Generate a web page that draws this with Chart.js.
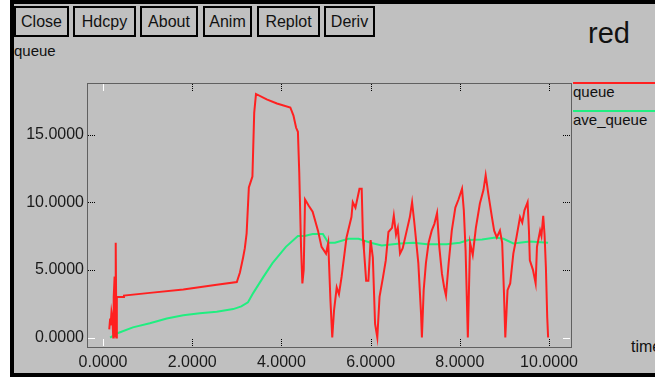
<!DOCTYPE html>
<html>
<head>
<meta charset="utf-8">
<script src="https://cdn.jsdelivr.net/npm/chart.js@4/dist/chart.umd.min.js"></script>
<style>
  html, body { margin:0; padding:0; background:#fff; width:655px; height:379px; overflow:hidden; }
  #win { position:absolute; left:10px; top:0; width:700px; height:377px; box-sizing:border-box;
         background:#c0c0c0; border-left:4px solid #000; border-top:4px solid #000; border-bottom:4px solid #000; }
  .btn { position:absolute; top:6px; height:31px; box-sizing:border-box; border:2px solid #000;
         font:16px "Liberation Sans", Arial, sans-serif; color:#111; line-height:27px; text-align:center; }
  .txt { position:absolute; font-family:"Liberation Sans", Arial, sans-serif; color:#111; white-space:nowrap; }
  #c { position:absolute; left:0; top:0; }
  .leg { position:absolute; left:573px; width:90px; height:2px; }
</style>
</head>
<body>
<div id="win"></div>
<div class="btn" style="left:14px;width:55px;">Close</div>
<div class="btn" style="left:73px;width:63px;">Hdcpy</div>
<div class="btn" style="left:140px;width:58px;">About</div>
<div class="btn" style="left:203px;width:49px;">Anim</div>
<div class="btn" style="left:257px;width:63px;">Replot</div>
<div class="btn" style="left:324px;width:51px;">Deriv</div>
<div class="txt" style="left:588px;top:17px;font-size:29px;">red</div>
<div class="txt" style="left:14px;top:42px;font-size:15px;">queue</div>
<div class="leg" style="top:82px;background:#ff2020;"></div>
<div class="txt" style="left:573px;top:83px;font-size:15px;">queue</div>
<div class="leg" style="top:110px;background:#20ee80;"></div>
<div class="txt" style="left:573px;top:111px;font-size:15px;">ave_queue</div>
<div class="txt" style="left:631px;top:338px;font-size:16px;">time</div>
<canvas id="c" width="655" height="379"></canvas>
<script>
// ---- data ----
const xTicks = [0, 2, 4, 6, 8, 10];
const yTicks = [0, 5, 10, 15];

const queueX = [0.14,0.16,0.17,0.19,0.21,0.23,0.24,0.26,0.27,0.28,0.29,0.30,0.31,0.45,0.47,1.05,1.8,2.55,3.0,
  3.07,3.14,3.18,3.22,3.27,3.32,3.35,3.39,3.43,3.67,3.9,4.2,4.27,4.33,4.37,4.40,4.44,4.47,4.50,4.53,
  4.62,4.70,4.82,4.90,5.00,5.05,5.10,5.14,5.18,5.24,5.29,5.35,5.46,5.57,5.60,5.66,5.75,5.80,5.83,5.85,5.90,5.95,
  6.00,6.05,6.10,6.15,6.20,6.28,6.34,6.40,6.48,6.52,6.57,6.61,6.66,6.72,6.81,6.88,6.93,6.98,7.07,7.13,7.15,
  7.19,7.24,7.30,7.37,7.43,7.49,7.54,7.60,7.65,7.69,7.75,7.82,7.90,7.97,8.05,8.09,8.13,8.18,8.23,8.29,8.36,
  8.45,8.53,8.58,8.64,8.72,8.77,8.83,8.90,8.95,8.99,9.02,9.07,9.13,9.20,9.27,9.35,9.40,9.45,9.52,9.55,9.57,
  9.64,9.70,9.73,9.80,9.83,9.87,9.90,9.93,9.96,9.98];
const queueY = [0.6,1.4,0.9,1.9,1.5,0.0,3.0,4.5,0.1,4.4,7.0,0.0,3.0,3.0,3.1,3.3,3.55,3.9,4.1,
  4.8,5.9,6.6,7.7,11.1,11.6,11.9,16.6,18.0,17.6,17.3,17.0,16.4,15.5,15.2,12.2,6.7,4.0,5.0,10.2,
  9.7,9.3,7.9,6.7,6.2,7.0,2.7,0.0,2.0,3.7,3.2,4.5,7.4,8.9,10.0,9.6,11.0,11.0,7.2,6.5,4.2,4.2,
  7.2,5.9,1.0,0.0,3.0,4.5,5.7,7.8,8.1,9.0,7.6,8.1,6.2,6.6,7.9,8.9,10.0,8.5,5.5,1.8,0.0,
  3.5,5.5,7.0,7.9,8.4,9.2,6.7,4.7,3.7,3.1,5.5,7.9,9.6,10.2,11.0,9.4,6.4,0.0,7.0,6.1,8.1,
  9.9,10.9,12.0,10.6,8.9,7.9,7.4,7.9,7.0,3.3,0.0,3.5,4.0,6.2,7.4,8.9,8.5,9.4,10.0,7.9,5.7,
  5.0,4.0,6.7,7.9,7.5,9.0,7.6,5.2,1.5,0.0];

const aveX = [0.16,0.31,0.67,1.05,1.43,1.8,2.17,2.55,2.92,3.1,3.25,3.37,3.6,3.8,4.1,4.37,4.52,4.70,4.93,
  5.05,5.20,5.50,5.73,6.00,6.25,6.66,6.96,7.27,7.70,8.00,8.20,8.50,8.80,8.98,9.20,9.57,9.98];
const aveY = [0.0,0.3,0.75,1.05,1.4,1.65,1.8,1.9,2.1,2.3,2.6,3.3,4.5,5.5,6.7,7.5,7.5,7.65,7.65,
  7.0,7.0,7.3,7.3,7.0,6.8,6.95,7.0,6.9,6.9,7.0,7.2,7.25,7.4,7.3,6.95,7.1,7.0];

const toPts = (xs, ys) => xs.map((x, i) => ({ x: x, y: ys[i] }));

const framePlugin = {
  id: 'frame',
  beforeDatasetsDraw(chart) {
    const ctx = chart.ctx, a = chart.chartArea;
    const xs = chart.scales.x, ys = chart.scales.y;
    ctx.save();
    ctx.lineWidth = 1;
    ctx.strokeStyle = '#000';
    ctx.setLineDash([1, 1]);
    ctx.strokeRect(Math.round(a.left) + 0.5, Math.round(a.top) + 0.5,
                   Math.round(a.right - a.left), Math.round(a.bottom - a.top));
    const L = 7;
    xTicks.forEach(v => {
      const px = Math.round(xs.getPixelForValue(v)) + 0.5;
      ctx.strokeStyle = v === 0 ? '#fff' : '#000';
      ctx.setLineDash(v === 0 ? [] : [1, 1]);
      ctx.beginPath();
      ctx.moveTo(px, a.top + 1); ctx.lineTo(px, a.top + 1 + L);
      ctx.moveTo(px, a.bottom - 1); ctx.lineTo(px, a.bottom - 1 - L);
      ctx.stroke();
    });
    yTicks.forEach(v => {
      const py = Math.round(ys.getPixelForValue(v)) + 0.5;
      ctx.strokeStyle = v === 0 ? '#fff' : '#000';
      ctx.setLineDash(v === 0 ? [] : [1, 1]);
      ctx.beginPath();
      ctx.moveTo(a.left + 1, py); ctx.lineTo(a.left + 1 + L, py);
      ctx.moveTo(a.right - 1, py); ctx.lineTo(a.right - 1 - L, py);
      ctx.stroke();
    });
    ctx.restore();
  }
};

new Chart(document.getElementById('c'), {
  type: 'line',
  data: {
    datasets: [
      { label: 'queue', data: toPts(queueX, queueY), borderColor: '#ff2020', borderWidth: 2,
        pointRadius: 0, tension: 0, fill: false },
      { label: 'ave_queue', data: toPts(aveX, aveY), borderColor: '#20ee80', borderWidth: 2,
        pointRadius: 0, tension: 0, fill: false }
    ]
  },
  options: {
    responsive: false,
    animation: false,
    devicePixelRatio: 1,
    layout: { padding: { left: 0, right: 84, top: 83, bottom: 0 } },
    plugins: { legend: { display: false }, tooltip: { enabled: false }, title: { display: false } },
    scales: {
      x: {
        type: 'linear', min: -0.359, max: 10.493,
        grid: { display: false, drawTicks: false }, border: { display: false },
        afterBuildTicks: s => { s.ticks = xTicks.map(v => ({ value: v })); },
        afterFit: s => { s.height = 379 - 347; },
        ticks: { padding: 6, color: '#1a1a1a', maxRotation: 0, autoSkip: false,
                 font: { family: 'Liberation Sans', size: 16 },
                 callback: v => Number(v).toFixed(4) }
      },
      y: {
        type: 'linear', min: -0.70, max: 18.81,
        grid: { display: false, drawTicks: false }, border: { display: false },
        afterBuildTicks: s => { s.ticks = yTicks.map(v => ({ value: v })); },
        afterFit: s => { s.width = 87; },
        ticks: { padding: 3, color: '#1a1a1a', autoSkip: false,
                 font: { family: 'Liberation Sans', size: 16 },
                 callback: v => Number(v).toFixed(4) }
      }
    }
  },
  plugins: [framePlugin]
});
</script>
</body>
</html>
